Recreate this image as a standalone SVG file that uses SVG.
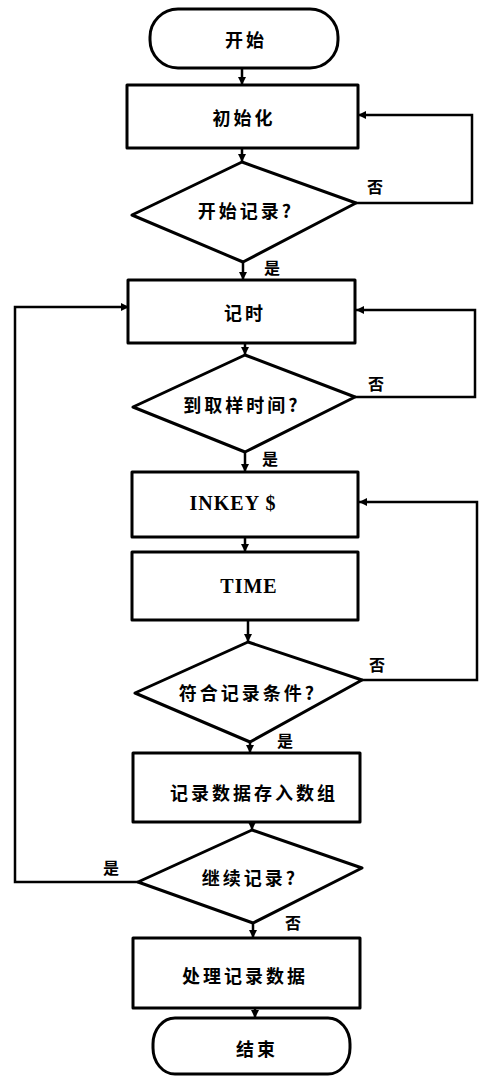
<svg xmlns="http://www.w3.org/2000/svg" width="479" height="1078" viewBox="0 0 479 1078">
<style>
.shape{fill:#fff;stroke:#000;stroke-width:3;stroke-linejoin:round}
.conn{fill:none;stroke:#000;stroke-width:2.5}
.t{font-family:"Noto Sans CJK SC","Noto Sans",sans-serif;font-weight:bold;font-size:18px;fill:#000;text-anchor:middle;dominant-baseline:central;letter-spacing:3px}
.e{font-family:"Liberation Serif",serif;font-weight:bold;font-size:20px;fill:#000;text-anchor:middle;dominant-baseline:central;letter-spacing:1px}
.l{font-family:"Noto Sans CJK SC","Noto Sans",sans-serif;font-weight:bold;font-size:16px;fill:#000;text-anchor:middle;dominant-baseline:central}
</style>
<defs>
<marker id="ah" viewBox="0 0 10 10" refX="10" refY="5" markerWidth="8" markerHeight="8" markerUnits="userSpaceOnUse" orient="auto">
<path d="M0,0 L10,5 L0,10 Z" fill="#000"/>
</marker>
</defs>
<rect width="479" height="1078" fill="#fff"/>
<g id="connectors">
<path class="conn" d="M242,68 V85" marker-end="url(#ah)"/>
<path class="conn" d="M242,148 V162" marker-end="url(#ah)"/>
<path class="conn" d="M356,203 H472 V115 H358" marker-end="url(#ah)"/>
<path class="conn" d="M243,262 V280" marker-end="url(#ah)"/>
<path class="conn" d="M245,343 V355" marker-end="url(#ah)"/>
<path class="conn" d="M355,397 H475 V310 H356" marker-end="url(#ah)"/>
<path class="conn" d="M245,452 V472" marker-end="url(#ah)"/>
<path class="conn" d="M245,537 V552" marker-end="url(#ah)"/>
<path class="conn" d="M248,620 V642" marker-end="url(#ah)"/>
<path class="conn" d="M362,680 H477 V502 H359" marker-end="url(#ah)"/>
<path class="conn" d="M250,742 V753" marker-end="url(#ah)"/>
<path class="conn" d="M252,822 V830" marker-end="url(#ah)"/>
<path class="conn" d="M138,882 H15 V307 H129" marker-end="url(#ah)"/>
<path class="conn" d="M253,923 V938" marker-end="url(#ah)"/>
<path class="conn" d="M255,1008 V1018" marker-end="url(#ah)"/>
<text class="l" x="375" y="186">否</text>
<text class="l" x="272" y="267">是</text>
<text class="l" x="376" y="383">否</text>
<text class="l" x="270" y="458">是</text>
<text class="l" x="377" y="664">否</text>
<text class="l" x="285" y="740">是</text>
<text class="l" x="111" y="867">是</text>
<text class="l" x="293" y="922">否</text>
</g>
<g id="start">
<rect class="shape" x="150" y="9" width="188" height="59" rx="28" ry="28"/>
<text class="t" x="246" y="39">开始</text>
</g>
<g id="init">
<rect class="shape" x="127" y="85" width="231" height="63"/>
<text class="t" x="244" y="117">初始化</text>
</g>
<g id="d1">
<polygon class="shape" points="242,162 356,203 243,262 132,215"/>
<text class="t" x="246" y="210">开始记录?</text>
</g>
<g id="timer">
<rect class="shape" x="128" y="280" width="227" height="63"/>
<text class="t" x="245" y="312">记时</text>
</g>
<g id="d2">
<polygon class="shape" points="245,355 355,397 245,452 133,407"/>
<text class="t" x="242" y="404">到取样时间?</text>
</g>
<g id="inkey">
<rect class="shape" x="132" y="472" width="226" height="65"/>
<text class="e" x="233" y="503">INKEY $</text>
</g>
<g id="time">
<rect class="shape" x="132" y="552" width="226" height="68"/>
<text class="e" x="249" y="586">TIME</text>
</g>
<g id="d3">
<polygon class="shape" points="248,642 362,680 250,742 135,693"/>
<text class="t" x="248" y="692">符合记录条件?</text>
</g>
<g id="store">
<rect class="shape" x="133" y="753" width="227" height="69"/>
<text class="t" x="254" y="792">记录数据存入数组</text>
</g>
<g id="d4">
<polygon class="shape" points="252,830 362,868 253,923 138,882"/>
<text class="t" x="250" y="877">继续记录?</text>
</g>
<g id="process">
<rect class="shape" x="133" y="938" width="227" height="70"/>
<text class="t" x="245" y="975">处理记录数据</text>
</g>
<g id="end">
<rect class="shape" x="153" y="1018" width="197" height="56" rx="22" ry="26"/>
<text class="t" x="257" y="1048">结束</text>
</g>
</svg>
